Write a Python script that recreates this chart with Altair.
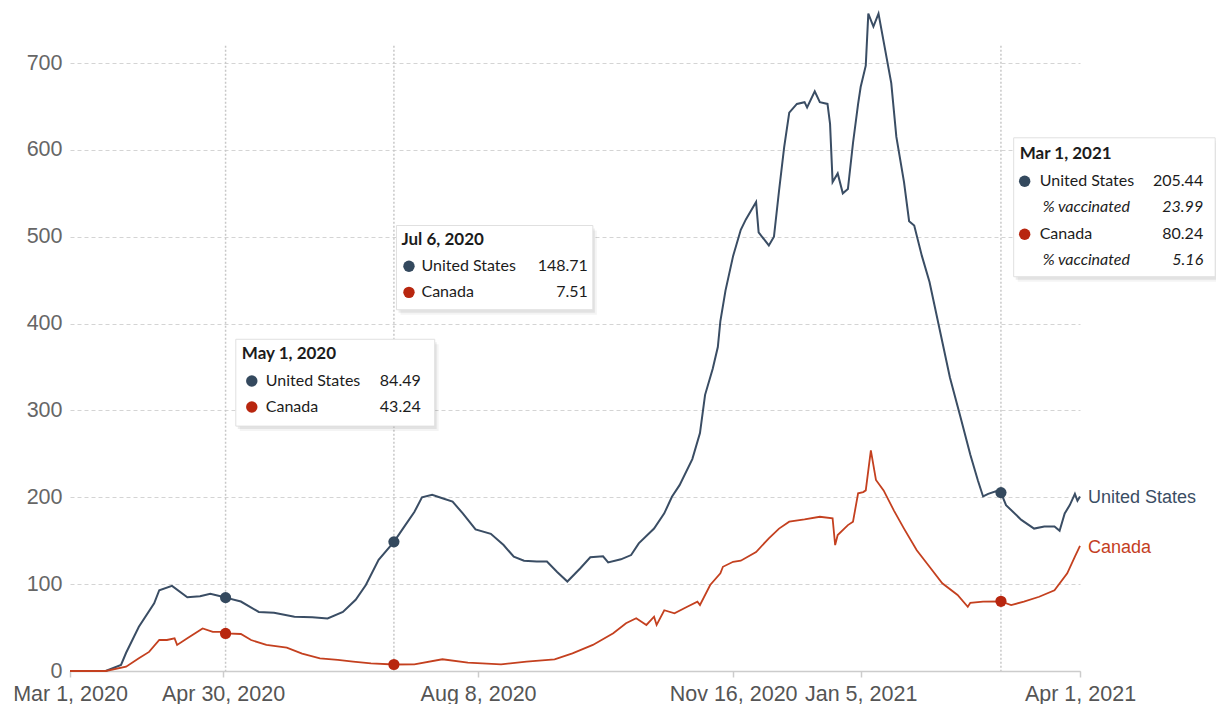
import altair as alt
import pandas as pd

# ---------------- data ----------------
us_dates = [
    "2020-03-01", "2020-03-15", "2020-03-21", "2020-03-23", "2020-03-28", "2020-04-03", "2020-04-05", "2020-04-10", "2020-04-16", "2020-04-21",
    "2020-04-25", "2020-04-29", "2020-05-01", "2020-05-07", "2020-05-14", "2020-05-20", "2020-05-28", "2020-06-04", "2020-06-10", "2020-06-16",
    "2020-06-21", "2020-06-25", "2020-06-30", "2020-07-06", "2020-07-10", "2020-07-14", "2020-07-17", "2020-07-21", "2020-07-25", "2020-07-29",
    "2020-08-02", "2020-08-07", "2020-08-13", "2020-08-18", "2020-08-22", "2020-08-26", "2020-08-31", "2020-09-04", "2020-09-08", "2020-09-12",
    "2020-09-17", "2020-09-21", "2020-09-26", "2020-09-28", "2020-10-03", "2020-10-07", "2020-10-10", "2020-10-16", "2020-10-20", "2020-10-23",
    "2020-10-26", "2020-10-31", "2020-11-03", "2020-11-05", "2020-11-08", "2020-11-10", "2020-11-11", "2020-11-13", "2020-11-16", "2020-11-19",
    "2020-11-21", "2020-11-25", "2020-11-26", "2020-11-30", "2020-12-02", "2020-12-04", "2020-12-06", "2020-12-08", "2020-12-11", "2020-12-14",
    "2020-12-15", "2020-12-18", "2020-12-20", "2020-12-23", "2020-12-24", "2020-12-25", "2020-12-27", "2020-12-29", "2020-12-31", "2021-01-02",
    "2021-01-04", "2021-01-05", "2021-01-07", "2021-01-08", "2021-01-10", "2021-01-12", "2021-01-14", "2021-01-17", "2021-01-19", "2021-01-22",
    "2021-01-24", "2021-01-26", "2021-01-29", "2021-02-01", "2021-02-05", "2021-02-09", "2021-02-13", "2021-02-17", "2021-02-20", "2021-02-22",
    "2021-02-24", "2021-02-27", "2021-03-01", "2021-03-03", "2021-03-09", "2021-03-14", "2021-03-18", "2021-03-22", "2021-03-24", "2021-03-26",
    "2021-03-28", "2021-03-30", "2021-03-31", "2021-04-01",
]
us_values = [
    0, 0, 7, 21, 51, 78, 93, 98, 85, 86,
    89, 86, 84.49, 80, 68, 67, 62.5, 62, 60.6, 68,
    82, 99, 128, 148.71, 166, 183, 200, 203, 199, 195,
    181.5, 163, 158, 145, 131.6, 127, 126, 126, 114, 103,
    118, 131, 132, 125, 128.6, 133.5, 147, 164, 181.5, 200.7,
    214, 244, 274, 318, 348, 373, 403, 438, 478, 508,
    520, 540, 505, 490, 500, 553, 603, 643, 653, 655,
    649, 667.5, 655, 653, 630, 563, 573, 550, 555, 608,
    653, 672.5, 697, 757, 742, 757, 725, 677, 615, 563,
    518, 513, 478, 448, 393, 338, 294, 249, 219, 201,
    204, 207, 205.44, 191, 174, 164, 166.5, 166.5, 161.5, 181.5,
    191, 204, 196, 201,
]
ca_dates = [
    "2020-03-01", "2020-03-15", "2020-03-23", "2020-03-28", "2020-04-01", "2020-04-05", "2020-04-08", "2020-04-11", "2020-04-12", "2020-04-16",
    "2020-04-22", "2020-04-26", "2020-04-29", "2020-05-01", "2020-05-07", "2020-05-11", "2020-05-17", "2020-05-25", "2020-05-31", "2020-06-07",
    "2020-06-14", "2020-06-20", "2020-06-27", "2020-07-06", "2020-07-14", "2020-07-25", "2020-08-04", "2020-08-17", "2020-08-27", "2020-09-07",
    "2020-09-14", "2020-09-22", "2020-09-30", "2020-10-05", "2020-10-09", "2020-10-13", "2020-10-16", "2020-10-17", "2020-10-20", "2020-10-24",
    "2020-10-29", "2020-11-02", "2020-11-03", "2020-11-07", "2020-11-11", "2020-11-12", "2020-11-16", "2020-11-19", "2020-11-25", "2020-11-30",
    "2020-12-04", "2020-12-08", "2020-12-14", "2020-12-20", "2020-12-25", "2020-12-26", "2020-12-27", "2020-12-31", "2021-01-02", "2021-01-04",
    "2021-01-06", "2021-01-07", "2021-01-09", "2021-01-11", "2021-01-14", "2021-01-18", "2021-01-22", "2021-01-27", "2021-02-01", "2021-02-06",
    "2021-02-12", "2021-02-16", "2021-02-17", "2021-02-22", "2021-03-01", "2021-03-05", "2021-03-10", "2021-03-16", "2021-03-22", "2021-03-27",
    "2021-03-30", "2021-04-01",
]
ca_values = [
    0, 0, 5, 14.6, 22, 35.7, 35.7, 37.6, 30, 37.6,
    49, 45, 45, 43.24, 42.6, 35.7, 30, 27, 20, 14.6,
    12.7, 10.7, 8.8, 7.51, 7.7, 13.5, 9.6, 7.7, 10.7, 13.5,
    20.4, 30, 43.4, 55, 60.7, 53, 62.5, 53, 70, 66.4,
    74, 79.8, 76, 99, 112.5, 120, 125.8, 127, 137, 152.8,
    164, 172, 174.6, 177.6, 175.8, 145, 156.6, 168, 172, 204.6,
    206, 208, 254, 220, 208, 185, 164, 139, 120, 101,
    87.5, 74, 78.6, 79.8, 80.24, 76, 79.8, 85.5, 93, 112.5,
    131.6, 144,
]
assert len(us_dates) == len(us_values) and len(ca_dates) == len(ca_values)

series_names = ["United States", "Canada"]
x_start, x_end = "2020-03-01", "2021-04-01"
tick_dates = ["2020-03-01", "2020-04-30", "2020-08-08", "2020-11-16", "2021-01-05", "2021-04-01"]
y_ticks = [0, 100, 200, 300, 400, 500, 600, 700]

marker_dates = ["2020-05-01", "2020-07-06", "2021-03-01"]
marker_us = [84.49, 148.71, 205.44]
marker_ca = [43.24, 7.51, 80.24]
vacc_label = "% vaccinated"
us_vaccinated = 23.99   # on 2021-03-01
ca_vaccinated = 5.16    # on 2021-03-01

# ---------------- style ----------------
US_LINE = "#3a4d64"
US_DOT = "#34495e"
CA_LINE = "#c4401f"
CA_DOT = "#b8260f"
AXIS_FONT = "Liberation Sans"
TIP_FONT = "Lato"
TIP_TEXT = "#1c1c1c"


def dt(s):
    y, m, d = (int(p) for p in s.split("-"))
    return alt.DateTime(year=y, month=m, date=d, utc=True)


x_scale = alt.Scale(type="utc", domain=[dt(x_start), dt(x_end)])
x_axis = alt.Axis(
    values=[dt(s) for s in tick_dates], format="%b %-d, %Y", title=None, grid=False,
    labelFont=AXIS_FONT, labelFontSize=21.5, labelColor="#555555", labelFlush=False,
    labelOverlap=False, labelPadding=6, tickSize=6, tickColor="#cccccc", tickWidth=1.5,
    domainColor="#cccccc", domainWidth=1.5,
)
y_scale = alt.Scale(domain=[0, 760], nice=False, zero=True)
y_axis = alt.Axis(
    values=y_ticks, title=None, grid=True, gridColor="#d4d4d4", gridDash=[4, 3], gridWidth=1,
    domain=False, ticks=False, labelPadding=8, labelFont=AXIS_FONT, labelFontSize=21.5,
    labelColor="#666666",
)


def X(field):
    return alt.X(f"{field}:T", scale=x_scale, axis=x_axis)


def Y(field):
    return alt.Y(f"{field}:Q", scale=y_scale, axis=y_axis)


us_df = pd.DataFrame({"date": us_dates, "value": us_values})
ca_df = pd.DataFrame({"date": ca_dates, "value": ca_values})

layers = []

# dotted hover rules
rule_df = pd.DataFrame({"date": marker_dates, "top": [720] * len(marker_dates), "bottom": [0] * len(marker_dates)})
layers.append(
    alt.Chart(rule_df).mark_rule(color="#c8c8c8", strokeDash=[2, 2], strokeWidth=1.5)
    .encode(x=X("date"), y=Y("top"), y2=alt.Y2("bottom"))
)

# lines
layers.append(alt.Chart(us_df).mark_line(color=US_LINE, strokeWidth=2).encode(x=X("date"), y=Y("value")))
layers.append(alt.Chart(ca_df).mark_line(color=CA_LINE, strokeWidth=1.8).encode(x=X("date"), y=Y("value")))

# hover points
layers.append(
    alt.Chart(pd.DataFrame({"date": marker_dates, "value": marker_us}))
    .mark_circle(size=125, color=US_DOT, opacity=1).encode(x=X("date"), y=Y("value"))
)
layers.append(
    alt.Chart(pd.DataFrame({"date": marker_dates, "value": marker_ca}))
    .mark_circle(size=125, color=CA_DOT, opacity=1).encode(x=X("date"), y=Y("value"))
)

# end labels
end_df = pd.DataFrame({
    "date": [us_dates[-1], ca_dates[-1]],
    "value": [us_values[-1], ca_values[-1]],
    "label": series_names,
    "color": [US_LINE, CA_LINE],
})
layers.append(
    alt.Chart(end_df).mark_text(align="left", baseline="middle", dx=8, dy=2, font=AXIS_FONT, fontSize=18)
    .encode(x=X("date"), y=Y("value"), text="label:N", color=alt.Color("color:N", scale=None))
)


def fmt_date(s):
    return pd.Timestamp(s).strftime("%b %-d, %Y")


def tooltip(left, right, top, bottom, title, title_y, rows, off):
    """rows: (label, value_text, y, dot_color or '', italic)"""
    out = []
    box = pd.DataFrame({"l": [left], "r": [right], "t": [top], "b": [bottom]})
    for xo, yo, op in [(4, 5, 0.045), (2, 3, 0.07)]:
        out.append(
            alt.Chart(box).mark_rect(fill="#000000", opacity=op, xOffset=xo, x2Offset=xo, yOffset=yo, y2Offset=yo)
            .encode(x=X("l"), x2=alt.X2("r"), y=Y("t"), y2=alt.Y2("b"))
        )
    out.append(
        alt.Chart(box).mark_rect(fill="white", stroke="#e0e0e0", strokeWidth=1)
        .encode(x=X("l"), x2=alt.X2("r"), y=Y("t"), y2=alt.Y2("b"))
    )
    out.append(
        alt.Chart(pd.DataFrame({"d": [left], "v": [title_y], "txt": [title]}))
        .mark_text(align="left", baseline="middle", dx=off["title"], font=TIP_FONT, fontSize=17,
                   fontWeight="bold", color=TIP_TEXT)
        .encode(x=X("d"), y=Y("v"), text="txt:N")
    )
    dots = [(r[2], r[3]) for r in rows if r[3]]
    out.append(
        alt.Chart(pd.DataFrame({"d": [left] * len(dots), "v": [d[0] for d in dots], "c": [d[1] for d in dots]}))
        .mark_circle(size=130, opacity=1, xOffset=off["dot"])
        .encode(x=X("d"), y=Y("v"), color=alt.Color("c:N", scale=None))
    )
    for italic in (False, True):
        sel = [r for r in rows if r[4] == italic]
        if not sel:
            continue
        style = "italic" if italic else "normal"
        lab_dx = off["italic"] if italic else off["label"]
        out.append(
            alt.Chart(pd.DataFrame({"d": [left] * len(sel), "v": [r[2] for r in sel], "txt": [r[0] for r in sel]}))
            .mark_text(align="left", baseline="middle", dx=lab_dx, font=TIP_FONT, fontSize=16,
                       fontStyle=style, color=TIP_TEXT)
            .encode(x=X("d"), y=Y("v"), text="txt:N")
        )
        out.append(
            alt.Chart(pd.DataFrame({"d": [right] * len(sel), "v": [r[2] for r in sel], "txt": [r[1] for r in sel]}))
            .mark_text(align="right", baseline="middle", dx=off["value"], font=TIP_FONT, fontSize=16,
                       fontStyle=style, color=TIP_TEXT)
            .encode(x=X("d"), y=Y("v"), text="txt:N")
        )
    return out


layers += tooltip(
    "2020-05-05", "2020-07-22", 382, 282, fmt_date(marker_dates[0]), 365,
    [(series_names[0], f"{marker_us[0]:.2f}", 334, US_DOT, False),
     (series_names[1], f"{marker_ca[0]:.2f}", 304, CA_DOT, False)],
    {"title": 6, "dot": 16, "label": 30, "italic": 33, "value": -14},
)
layers += tooltip(
    "2020-07-07", "2020-09-22", 513, 416, fmt_date(marker_dates[1]), 496,
    [(series_names[0], f"{marker_us[1]:.2f}", 466, US_DOT, False),
     (series_names[1], f"{marker_ca[1]:.2f}", 436, CA_DOT, False)],
    {"title": 5, "dot": 12.5, "label": 25, "italic": 28, "value": -5},
)
layers += tooltip(
    "2021-03-06", "2021-05-24", 614, 454, fmt_date(marker_dates[2]), 595,
    [(series_names[0], f"{marker_us[2]:.2f}", 564, US_DOT, False),
     (vacc_label, f"{us_vaccinated:.2f}", 534, "", True),
     (series_names[1], f"{marker_ca[2]:.2f}", 503, CA_DOT, False),
     (vacc_label, f"{ca_vaccinated:.2f}", 473, "", True)],
    {"title": 6, "dot": 11, "label": 26, "italic": 29, "value": -12},
)

chart = (
    alt.layer(*layers)
    .properties(
        width=1010, height=660,
        autosize=alt.AutoSizeParams(type="none"),
        padding={"left": 62, "top": 3, "right": 136, "bottom": 36},
    )
    .configure_view(strokeWidth=0)
)

chart.save("out.html", embed_options={"renderer": "svg", "actions": False})
